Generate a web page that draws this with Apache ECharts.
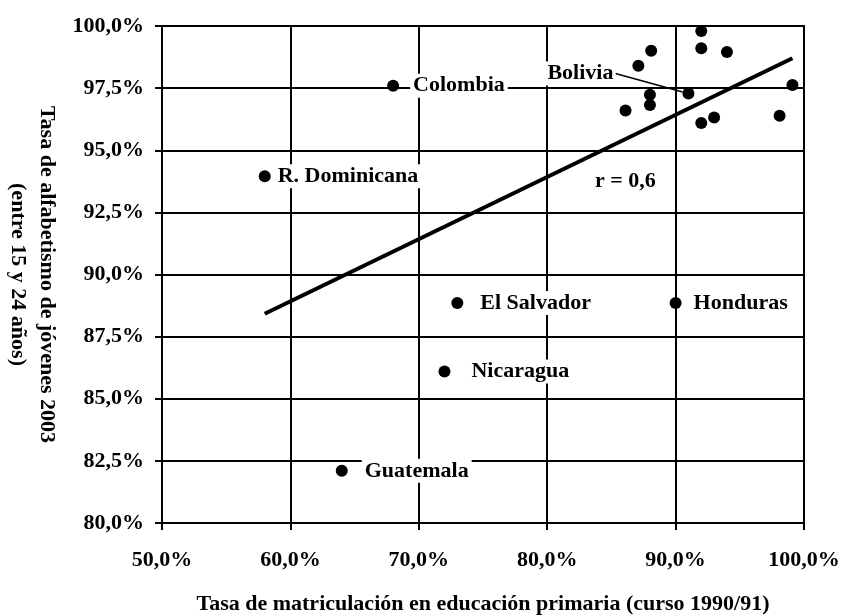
<!DOCTYPE html>
<html>
<head>
<meta charset="utf-8">
<script src="https://cdn.jsdelivr.net/npm/echarts@6/dist/echarts.min.js"></script>
<style>
  html, body { margin: 0; padding: 0; background: #fff; }
  #chart { width: 842px; height: 615px; }
</style>
</head>
<body>
<div id="chart"></div>
<script>
// labelled countries
const names = ['R. Dominicana', 'Colombia', 'Guatemala', 'Nicaragua', 'El Salvador', 'Honduras'];
const enrolX = [58.0, 68.0, 64.0, 72.0, 73.0, 90.0];
const literY = [93.95, 97.6, 82.1, 86.1, 88.85, 88.85];

// Bolivia (label with leader line)
const boliviaX = [91.0];
const boliviaY = [97.28];

// unlabelled countries (top-right cluster)
const otherX = [92.0, 88.1, 87.1, 92.0, 94.0, 99.1, 88.0, 88.0, 86.1, 92.0, 93.0, 98.1];
const otherY = [99.8, 99.0, 98.4, 99.1, 98.95, 97.63, 97.23, 96.82, 96.6, 96.1, 96.32, 96.39];

// regression line ends
const trendX = [58.0, 99.1];
const trendY = [88.42, 98.7];

const xTicks = { min: 50, max: 100, step: 10 };
const yTicks = { min: 80, max: 100, step: 2.5 };

const FONT = '"Liberation Serif", "Times New Roman", serif';
const txt = { fontFamily: FONT, fontWeight: 'bold', fontSize: 22, color: '#000' };

// label gap to the right of each dot
const labelGap = {
  'R. Dominicana': 4, 'Colombia': 11, 'Guatemala': 14, 'Nicaragua': 18,
  'El Salvador': 14, 'Honduras': 9
};

const pct = v => v.toFixed(1).replace('.', ',') + '%';

const labelled = names.map((n, i) => ({
  name: n,
  value: [enrolX[i], literY[i]],
  label: { show: true, position: 'right', distance: labelGap[n], formatter: n, ...txt,
    backgroundColor: '#fff', padding: [1, 3] }
}));

const others = otherX.map((x, i) => [x, otherY[i]]);
const bolivia = boliviaX.map((x, i) => ({ name: 'Bolivia', value: [x, boliviaY[i]] }));
const trend = trendX.map((x, i) => [x, trendY[i]]);

const dot = { color: '#000', opacity: 1 };

const chart = echarts.init(document.getElementById('chart'), null, { renderer: 'canvas' });
chart.setOption({
  animation: false,
  backgroundColor: '#fff',
  grid: {
    left: 162, right: 38, top: 26, bottom: 92, outerBoundsMode: 'none',
    show: true, borderColor: '#000', borderWidth: 2
  },
  xAxis: {
    type: 'value', min: xTicks.min, max: xTicks.max, interval: xTicks.step,
    name: 'Tasa de matriculación en educación primaria (curso 1990/91)',
    nameLocation: 'middle', nameGap: 70,
    nameTextStyle: { ...txt },
    axisLine: { show: true, lineStyle: { color: '#000', width: 2 } },
    axisTick: { show: true, inside: false, length: 7, lineStyle: { color: '#000', width: 2 } },
    axisLabel: { ...txt, margin: 26, formatter: pct },
    splitLine: { show: true, lineStyle: { color: '#000', width: 2 } }
  },
  yAxis: {
    type: 'value', min: yTicks.min, max: yTicks.max, interval: yTicks.step,
    name: 'Tasa de alfabetismo de jóvenes 2003\n(entre 15 y 24 años)',
    nameLocation: 'middle', nameRotate: -90, nameGap: 98,
    nameTextStyle: { ...txt, lineHeight: 29 },
    axisLine: { show: true, lineStyle: { color: '#000', width: 2 } },
    axisTick: { show: true, inside: false, length: 7, lineStyle: { color: '#000', width: 2 } },
    axisLabel: { ...txt, margin: 18, formatter: pct },
    splitLine: { show: true, lineStyle: { color: '#000', width: 2 } }
  },
  series: [
    {
      type: 'line', data: trend, showSymbol: false, z: 3,
      lineStyle: { color: '#000', width: 4 }
    },
    {
      type: 'scatter', data: others, symbol: 'circle', symbolSize: 12, z: 4,
      itemStyle: dot
    },
    {
      type: 'scatter', data: labelled, symbol: 'circle', symbolSize: 12, z: 5,
      itemStyle: dot
    },
    {
      type: 'scatter', data: bolivia, symbol: 'circle', symbolSize: 12, z: 5,
      itemStyle: dot,
      label: { show: true, position: 'left', distance: 4, formatter: '{b}', ...txt,
        backgroundColor: '#fff', padding: [1, 2] },
      labelLayout: { dx: -63, dy: -20 },
      labelLine: { show: true, lineStyle: { color: '#000', width: 1.5 } }
    }
  ],
  graphic: [
    {
      type: 'text', left: 595, top: 170, z: 10,
      style: { text: 'r = 0,6', font: 'bold 22px ' + FONT, fill: '#000' }
    }
  ]
});
</script>
</body>
</html>
